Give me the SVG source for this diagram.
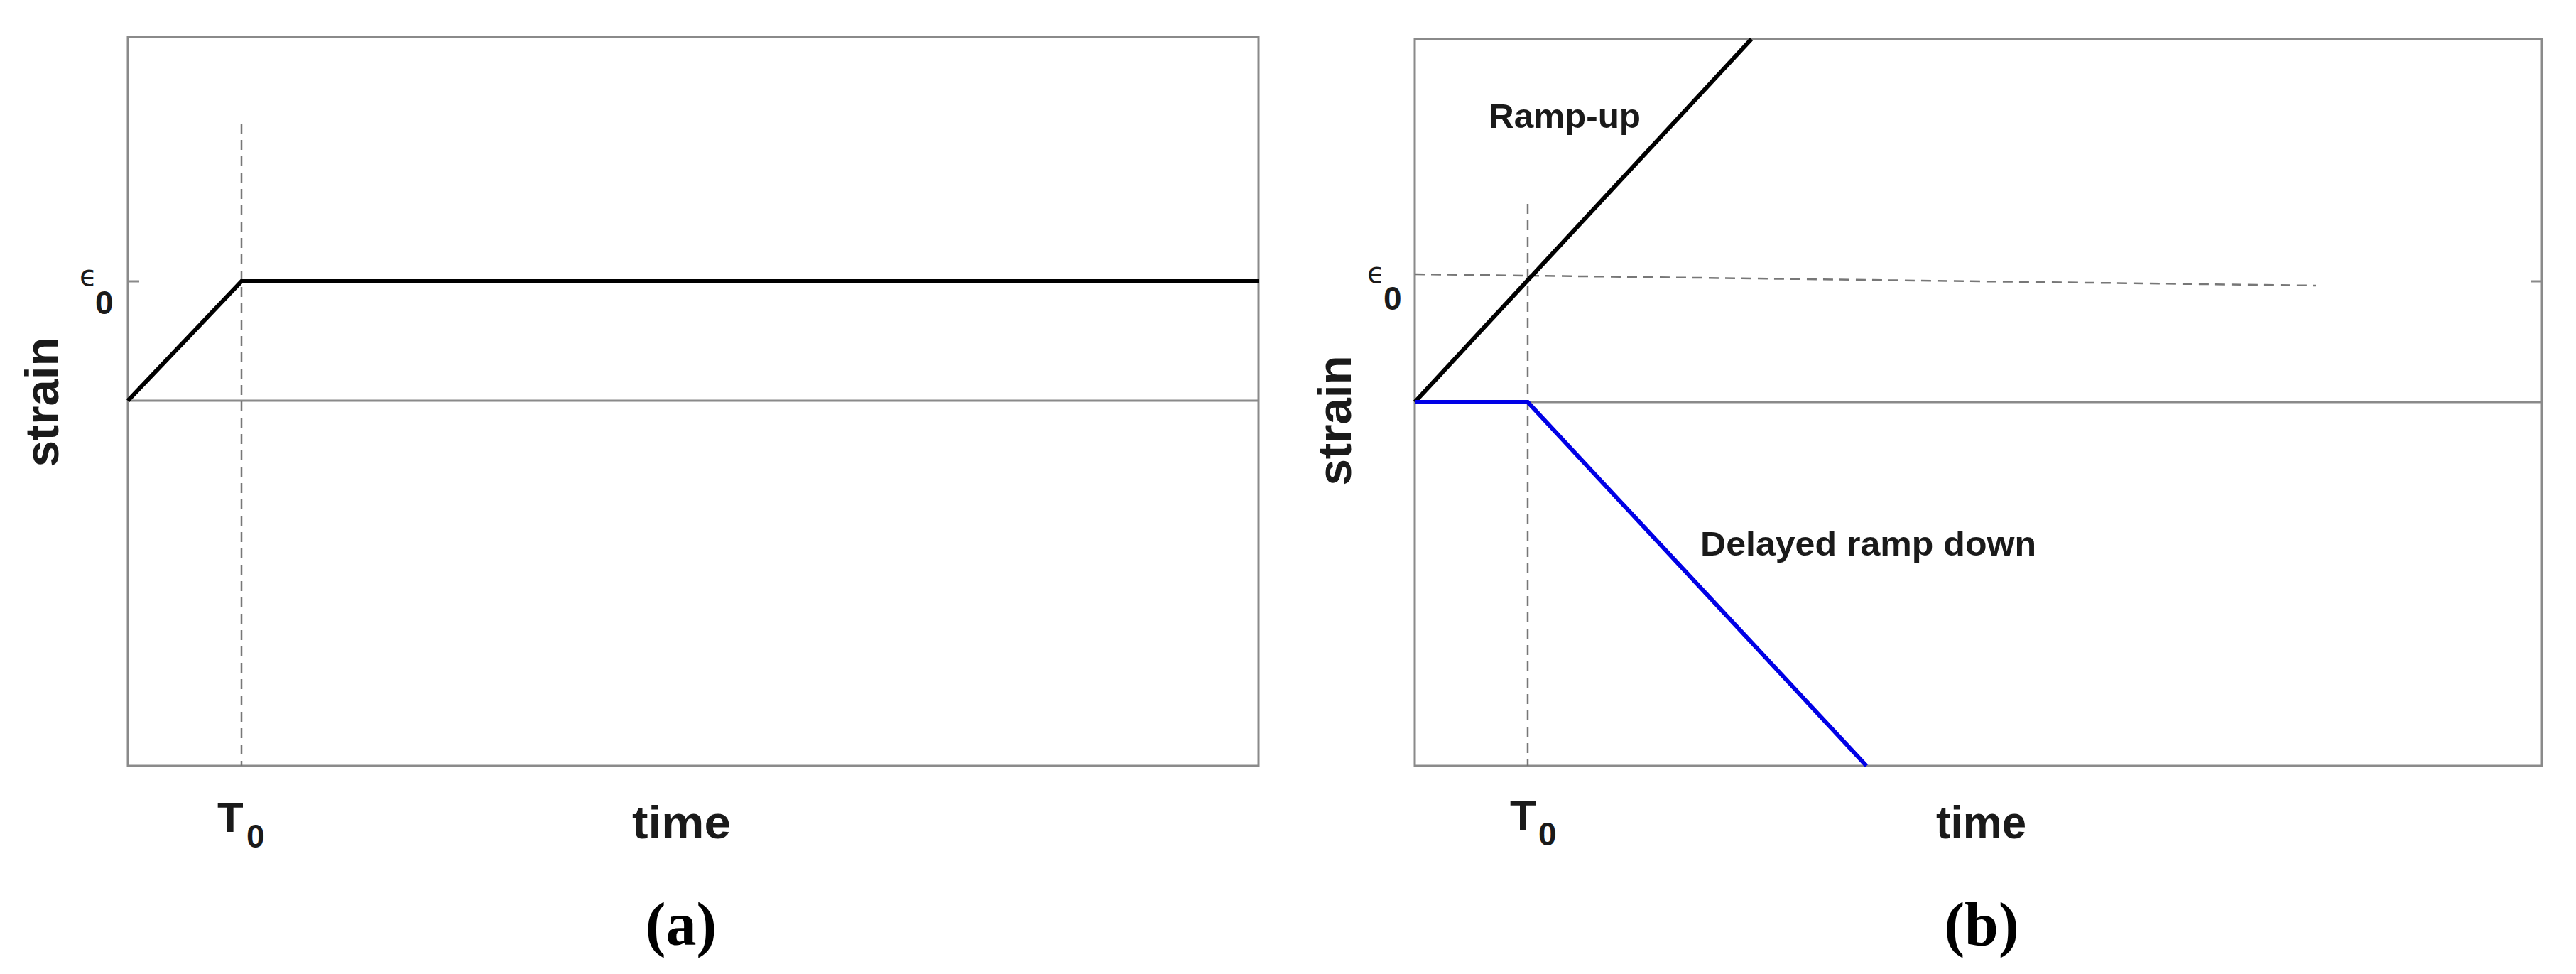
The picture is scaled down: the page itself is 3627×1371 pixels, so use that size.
<svg xmlns="http://www.w3.org/2000/svg" width="3627" height="1371" viewBox="0 0 3627 1371">
<style>
.frame{fill:none;stroke:#8a8a8a;stroke-width:3}
.axis{stroke:#8a8a8a;stroke-width:3}
.dash{stroke:#777;stroke-width:2.5;stroke-dasharray:14 9;fill:none}
.curve{fill:none;stroke:#000;stroke-width:6}
.blue{fill:none;stroke:#0000e6;stroke-width:6}
.lab{font-family:"Liberation Sans",Arial,sans-serif;font-weight:bold;fill:#1a1a1a}
.eps{font-family:"DejaVu Sans",sans-serif;font-size:40px;fill:#1a1a1a}
.cap{font-family:"Liberation Serif","Times New Roman",serif;font-weight:bold;font-size:86px;fill:#000;text-anchor:middle}
</style>
<g id="panel-a">
<rect class="frame" x="180" y="52" width="1592" height="1026"/>
<line class="axis" x1="180" y1="564" x2="1772" y2="564"/>
<line class="axis" x1="180" y1="396" x2="196" y2="396"/>
<line class="axis" x1="1756" y1="396" x2="1772" y2="396"/>
<line class="dash" x1="340" y1="174" x2="340" y2="1078"/>
<polyline class="curve" points="180,564 340,396 1772,396"/>
<text class="eps" x="112" y="402">ϵ</text>
<text class="lab" x="134" y="442" font-size="46">0</text>
<text class="lab" transform="translate(82,566) rotate(-90)" font-size="66" text-anchor="middle" textLength="183" lengthAdjust="spacingAndGlyphs">strain</text>
<text class="lab" x="306" y="1171" font-size="60">T</text>
<text class="lab" x="347" y="1193" font-size="46">0</text>
<text class="lab" x="890" y="1180" font-size="64" textLength="139" lengthAdjust="spacingAndGlyphs">time</text>
<text class="cap" x="959" y="1330">(a)</text>
</g>
<g id="panel-b">
<rect class="frame" x="1992" y="55" width="1587" height="1023"/>
<line class="axis" x1="1992" y1="566" x2="3579" y2="566"/>
<line class="axis" x1="3563" y1="396" x2="3579" y2="396"/>
<line class="dash" x1="2151" y1="287" x2="2151" y2="1078"/>
<line class="dash" x1="1992" y1="386" x2="3261" y2="402"/>
<line class="curve" x1="1992" y1="566" x2="2466" y2="55"/>
<polyline class="blue" points="1992,566 2151,566 2628,1078"/>
<text class="eps" x="1925" y="398">ϵ</text>
<text class="lab" x="1948" y="436" font-size="46">0</text>
<text class="lab" transform="translate(1902,592) rotate(-90)" font-size="66" text-anchor="middle" textLength="183" lengthAdjust="spacingAndGlyphs">strain</text>
<text class="lab" x="2126" y="1168" font-size="60">T</text>
<text class="lab" x="2166" y="1190" font-size="46">0</text>
<text class="lab" x="2726" y="1180" font-size="64" textLength="127" lengthAdjust="spacingAndGlyphs">time</text>
<text class="lab" x="2096" y="180" font-size="48" textLength="214" lengthAdjust="spacingAndGlyphs">Ramp-up</text>
<text class="lab" x="2394" y="782" font-size="48" textLength="473" lengthAdjust="spacingAndGlyphs">Delayed ramp down</text>
<text class="cap" x="2790" y="1330">(b)</text>
</g>
<g id="connectors"/>
</svg>
